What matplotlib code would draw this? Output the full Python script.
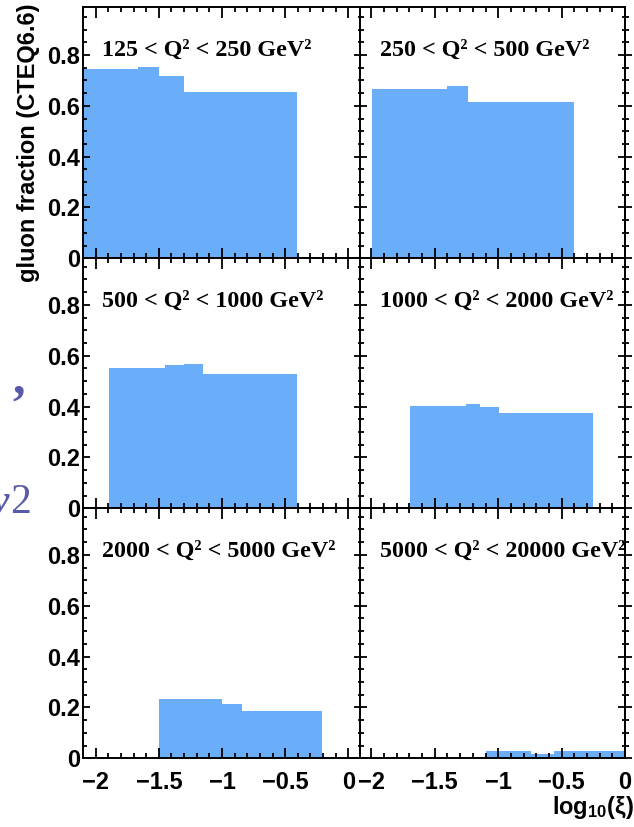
import matplotlib
matplotlib.use("Agg")
import matplotlib.pyplot as plt
from matplotlib.ticker import MultipleLocator, FixedLocator, FixedFormatter

plt.rcParams['mathtext.fontset'] = 'custom'
plt.rcParams['mathtext.rm'] = 'Liberation Sans:bold'
plt.rcParams['mathtext.it'] = 'Liberation Sans:bold'
plt.rcParams['mathtext.bf'] = 'Liberation Sans:bold'

# ---------------- data ----------------
panel_labels = [
    "125 < Q² < 250 GeV²", "250 < Q² < 500 GeV²",
    "500 < Q² < 1000 GeV²", "1000 < Q² < 2000 GeV²",
    "2000 < Q² < 5000 GeV²", "5000 < Q² < 20000 GeV²",
]
edges_1 = [-2.1, -1.668, -1.5, -1.3, -0.408]
vals_1 = [0.744, 0.754, 0.718, 0.653]
edges_2 = [-1.995, -1.400, -1.242, -0.400]
vals_2 = [0.665, 0.678, 0.614]
edges_3 = [-1.897, -1.455, -1.297, -1.147, -0.407]
vals_3 = [0.553, 0.563, 0.568, 0.527]
edges_4 = [-1.698, -1.256, -1.145, -0.993, -0.256]
vals_4 = [0.402, 0.410, 0.400, 0.376]
edges_5 = [-1.5, -1.0, -0.845, -0.207]
vals_5 = [0.232, 0.214, 0.186]
edges_6 = [-1.10, -0.745, -0.559, 0.0]
vals_6 = [0.029, 0.017, 0.029]

xtick_vals = [-2, -1.5, -1, -0.5, 0]
xtick_labels = ["\u22122", "\u22121.5", "\u22121", "\u22120.5", "0"]
ytick_vals = [0, 0.2, 0.4, 0.6, 0.8]
ytick_labels = ["0", "0.2", "0.4", "0.6", "0.8"]

edges = [edges_1, edges_2, edges_3, edges_4, edges_5, edges_6]
vals = [vals_1, vals_2, vals_3, vals_4, vals_5, vals_6]

# ---------------- layout ----------------
W, H = 634, 827
fig = plt.figure(figsize=(W / 100, H / 100), dpi=100)
PX = 0.72  # points per pixel

fill_color = '#6aaefa'
cols = [(83, 361, (-2.1, 0.1)), (360, 625, (-2.09, 0.0))]
rows = [(7, 258.3, 0.989), (258.3, 508.3, 0.983), (508.3, 758.3, 0.983)]


def rect(x0, x1, y0, y1):
    return [x0 / W, 1 - y1 / H, (x1 - x0) / W, (y1 - y0) / H]


def style(ax):
    for s in ax.spines.values():
        s.set_linewidth(1.4)
    ax.xaxis.set_major_locator(FixedLocator(xtick_vals))
    ax.xaxis.set_minor_locator(MultipleLocator(0.1))
    ax.yaxis.set_major_locator(FixedLocator(ytick_vals))
    ax.yaxis.set_minor_locator(MultipleLocator(0.05))
    ax.tick_params(axis='both', which='both', direction='in',
                   top=True, right=True, width=1.3, color='black')
    ax.tick_params(axis='x', which='major', length=10.5 * PX)
    ax.tick_params(axis='x', which='minor', length=5 * PX)
    ax.tick_params(axis='y', which='major', length=7 * PX)
    ax.tick_params(axis='y', which='minor', length=3.5 * PX)


k = 0
for r, (y0, y1, ytop) in enumerate(rows):
    for c, (x0, x1, xl) in enumerate(cols):
        ax = fig.add_axes(rect(x0, x1, y0, y1))
        ax.set_xlim(*xl)
        ax.set_ylim(0, ytop)
        ax.stairs(vals[k], edges[k], fill=True, color=fill_color,
                  linewidth=0)
        style(ax)
        if c == 0:
            ax.yaxis.set_major_formatter(FixedFormatter(ytick_labels))
            ax.tick_params(axis='y', which='major', labelsize=17, pad=2)
            for t in ax.get_yticklabels():
                t.set_fontfamily('Liberation Sans')
                t.set_fontweight('bold')
        else:
            ax.set_yticklabels([])
        if r == 2:
            ax.xaxis.set_major_formatter(FixedFormatter(xtick_labels))
            ax.tick_params(axis='x', which='major', labelsize=17, pad=9)
            for t in ax.get_xticklabels():
                t.set_fontfamily('Liberation Sans')
                t.set_fontweight('bold')
        else:
            ax.set_xticklabels([])
        ax.annotate(panel_labels[k], xy=(0, 1), xycoords='axes fraction',
                    xytext=(19.5 * PX, -49 * PX), textcoords='offset points',
                    ha='left', va='baseline', fontsize=17.3,
                    fontfamily='Liberation Serif', fontweight='bold')
        k += 1

# partial third column (cropped off the figure): only its left axis ticks
for (y0, y1, ytop) in rows:
    ax = fig.add_axes(rect(625, 890, y0, y1))
    ax.set_xlim(-2.09, 0.0)
    ax.set_ylim(0, ytop)
    for name in ['top', 'bottom', 'right']:
        ax.spines[name].set_visible(False)
    ax.spines['left'].set_linewidth(1.4)
    ax.set_xticks([])
    ax.yaxis.set_major_locator(FixedLocator(ytick_vals))
    ax.yaxis.set_minor_locator(MultipleLocator(0.05))
    ax.tick_params(axis='y', which='both', direction='in', labelleft=False,
                   width=1.3)
    ax.tick_params(axis='y', which='major', length=7 * PX)
    ax.tick_params(axis='y', which='minor', length=3.5 * PX)
    ax.patch.set_alpha(0)

# axis titles
fig.text(17 / W, 1 - 4 / H, "gluon fraction (CTEQ6.6)", rotation=90,
         ha='left', va='top', fontsize=17, fontfamily='Liberation Sans',
         fontweight='bold')
fig.text(552 / W, 1 - 814 / H, r"$\mathrm{log}_{10}(\xi)$", ha='left',
         va='baseline', fontsize=17)

# slide text fragments on the left edge
purple = '#5a5aaa'
fig.text(12 / W, 1 - 393 / H, ",", ha='left', va='baseline', fontsize=36,
         fontfamily='Liberation Serif', fontweight='bold', color=purple)
fig.text(10 / W, 1 - 513 / H, "2", ha='left', va='baseline', fontsize=30,
         fontfamily='Liberation Serif', color=purple)
fig.text(9 / W, 1 - 513 / H, "y", ha='right', va='baseline', fontsize=30,
         fontfamily='Liberation Serif', fontstyle='italic',
         fontweight='bold', color=purple)

fig.savefig("out.png", dpi=100)
